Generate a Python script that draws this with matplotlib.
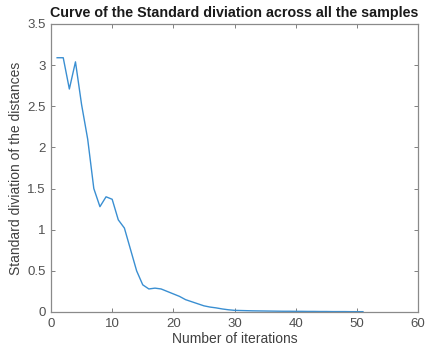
import numpy as np
import matplotlib
matplotlib.use("Agg")
import matplotlib.pyplot as plt

# std of distances per iteration
iterations = list(range(1, 52))
std_dist = [3.09, 3.09, 2.71, 3.04, 2.52, 2.10, 1.50, 1.28, 1.40, 1.37,
            1.12, 1.02, 0.76, 0.50, 0.33, 0.28, 0.29, 0.28, 0.25, 0.22,
            0.19, 0.15, 0.125, 0.10, 0.075, 0.06, 0.05, 0.037, 0.027, 0.02,
            0.018, 0.016, 0.014, 0.013, 0.012, 0.011, 0.010, 0.009, 0.009, 0.008,
            0.008, 0.007, 0.007, 0.006, 0.006, 0.005, 0.005, 0.005, 0.004, 0.004,
            0.004]
xticks = [0, 10, 20, 30, 40, 50, 60]
yticks = [0, 0.5, 1, 1.5, 2, 2.5, 3, 3.5]

plt.rcParams["font.family"] = ["Liberation Sans", "DejaVu Sans"]
fig = plt.figure(figsize=(4.28, 3.52), dpi=100)
ax = fig.add_axes([51/428, 1-312/352, (418-51)/428, (312-24)/352])
ax.plot(iterations, std_dist, color="#3a8fd2", lw=1.0)
ax.set_xlim(0, 60); ax.set_ylim(0, 3.5)
ax.set_xticks(xticks); ax.set_yticks(yticks)
ax.set_yticklabels(["0", "0.5", "1", "1.5", "2", "2.5", "3", "3.5"])
ax.tick_params(direction="in", length=3, width=0.7, color="#808080", labelcolor="#505050",
               labelsize=9.5, top=True, right=True, pad=4)
for s in ax.spines.values():
    s.set_color("#8a8a8a"); s.set_linewidth(0.9)
ax.set_xlabel("Number of iterations", fontsize=10, color="#404040", labelpad=2)
ax.set_ylabel("Standard diviation of the distances", fontsize=10, color="#404040", labelpad=3)
ax.set_title("Curve of the Standard diviation across all the samples", fontsize=10.3,
             fontweight="bold", color="#1a1a1a", pad=5)
fig.savefig("out.png", dpi=100)
